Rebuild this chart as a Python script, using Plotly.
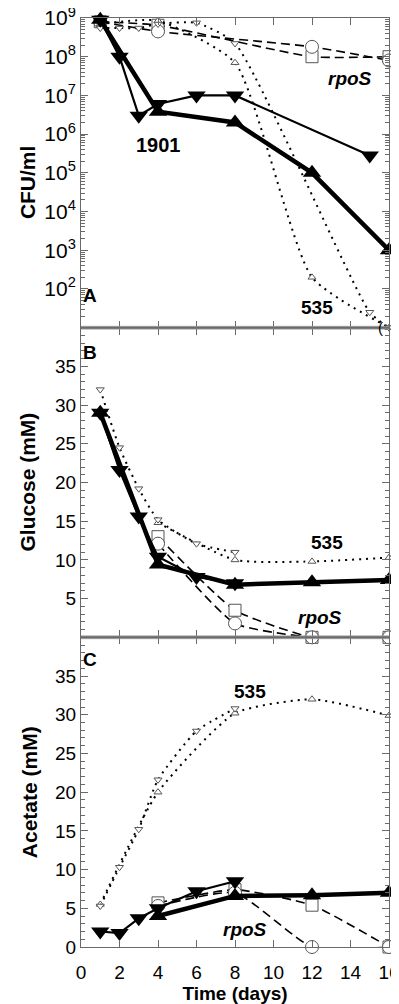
import plotly.graph_objects as go
from plotly.subplots import make_subplots

# ---------------- data ----------------
# Panel A: CFU/ml (log)
a_fdown_x = [1, 2, 3, 4, 6, 8, 15]
a_fdown_y = [9e8, 1e8, 3e6, 6e6, 1e7, 1e7, 2.8e5]
a_fup_x = [1, 4, 8, 12, 16]
a_fup_y = [9e8, 3.8e6, 2e6, 1e5, 1e3]
a_circ_x = [1, 4, 12, 16]
a_circ_y = [8e8, 4.5e8, 1.8e8, 8e7]
a_sq_x = [1, 4, 12, 16]
a_sq_y = [8e8, 6.5e8, 1e8, 1e8]
a_odown_x = [1, 2, 3, 4, 6, 8, 15, 16]
a_odown_y = [5.5e8, 5.5e8, 5.5e8, 7e8, 7.5e8, 2.2e8, 25, 10]
a_oup_x = [1, 4, 8, 12, 16]
a_oup_y = [7e8, 8.5e8, 7e7, 200, 10]

# Panel B: Glucose (mM)
b_fdown_x = [1, 2, 3, 4, 6, 8]
b_fdown_y = [29, 21.6, 15.6, 10.4, 7.8, 7.0]
b_fup_x = [1, 4, 8, 12, 16]
b_fup_y = [29, 9.4, 6.8, 7.1, 7.4]
b_circ_x = [4, 8, 12, 16]
b_circ_y = [12.1, 1.8, 0, 0]
b_sq_x = [4, 8, 12, 16]
b_sq_y = [13, 3.5, 0, 0]
b_odown_x = [1, 2, 3, 4, 6, 8]
b_odown_y = [32, 24.5, 19.2, 15.2, 12.1, 11]
b_oup_x = [4, 8, 12, 16]
b_oup_y = [14.8, 10, 9.8, 10.3]

# Panel C: Acetate (mM)
c_fdown_x = [1, 2, 3, 4, 6, 8]
c_fdown_y = [2.0, 1.8, 3.7, 5.0, 7.2, 8.5]
c_fup_x = [4, 8, 12, 16]
c_fup_y = [4.0, 6.6, 6.7, 7.0]
c_circ_x = [4, 8, 12, 16]
c_circ_y = [5.3, 7.0, 0, 0]
c_sq_x = [4, 8, 12, 16]
c_sq_y = [5.7, 7.4, 5.4, 0]
c_odown_x = [1, 2, 3, 4, 6, 8]
c_odown_y = [5.3, 10.3, 15.2, 21.6, 27.9, 30.8]
c_oup_x = [1, 4, 8, 12, 16]
c_oup_y = [5.5, 20.0, 30.2, 32.0, 29.9]

log_tickvals = [1e2, 1e3, 1e4, 1e5, 1e6, 1e7, 1e8, 1e9]
log_ticktext = ["10<sup>2</sup>", "10<sup>3</sup>", "10<sup>4</sup>", "10<sup>5</sup>",
                "10<sup>6</sup>", "10<sup>7</sup>", "10<sup>8</sup>", "10<sup>9</sup>"]
log_minor_vals = [m * 10 ** e for e in range(1, 9) for m in range(2, 10)]
lin_tickvals = [5, 10, 15, 20, 25, 30, 35]
lin_tickvals_c = [0, 5, 10, 15, 20, 25, 30, 35]
lin_minor_vals = list(range(0, 41))
x_tickvals = [0, 2, 4, 6, 8, 10, 12, 14, 16]

FONT = "Liberation Sans, Arial, sans-serif"
AX = "#6a6a6a"

fig = make_subplots(rows=3, cols=1, shared_xaxes=True, vertical_spacing=0)


def add_panel(row, fdx, fdy, fux, fuy, cx, cy, sx, sy, odx, ody, oux, ouy):
    # dashed (rpoS)
    fig.add_trace(go.Scatter(x=sx, y=sy, mode="lines+markers", cliponaxis=False,
                             line=dict(color="black", width=1.6, dash="9px,5px", shape="spline", smoothing=0.5),
                             marker=dict(symbol="square", size=12, color="white",
                                         line=dict(color="#555", width=1)),
                             showlegend=False), row=row, col=1)
    fig.add_trace(go.Scatter(x=cx, y=cy, mode="lines+markers", cliponaxis=False,
                             line=dict(color="black", width=1.6, dash="9px,5px", shape="spline", smoothing=0.5),
                             marker=dict(symbol="circle", size=13, color="white",
                                         line=dict(color="#555", width=1)),
                             showlegend=False), row=row, col=1)
    # dotted (535)
    fig.add_trace(go.Scatter(x=oux, y=ouy, mode="lines+markers", cliponaxis=False,
                             line=dict(color="black", width=2, dash="2px,5px", shape="spline", smoothing=0.55),
                             marker=dict(symbol="triangle-up", size=7, color="white",
                                         line=dict(color="#555", width=1)),
                             showlegend=False), row=row, col=1)
    fig.add_trace(go.Scatter(x=odx, y=ody, mode="lines+markers", cliponaxis=False,
                             line=dict(color="black", width=2, dash="2px,5px", shape="spline", smoothing=0.55),
                             marker=dict(symbol="triangle-down", size=7, color="white",
                                         line=dict(color="#555", width=1)),
                             showlegend=False), row=row, col=1)
    # solid (1901)
    fig.add_trace(go.Scatter(x=fux, y=fuy, mode="lines+markers", cliponaxis=False,
                             line=dict(color="black", width=4.5),
                             marker=dict(symbol="triangle-up", size=16, color="black"),
                             showlegend=False), row=row, col=1)
    fig.add_trace(go.Scatter(x=fdx, y=fdy, mode="lines+markers", cliponaxis=False,
                             line=dict(color="black", width=2.2),
                             marker=dict(symbol="triangle-down", size=16, color="black"),
                             showlegend=False), row=row, col=1)


add_panel(1, a_fdown_x, a_fdown_y, a_fup_x, a_fup_y, a_circ_x, a_circ_y, a_sq_x, a_sq_y,
          a_odown_x, a_odown_y, a_oup_x, a_oup_y)
add_panel(2, b_fdown_x, b_fdown_y, b_fup_x, b_fup_y, b_circ_x, b_circ_y, b_sq_x, b_sq_y,
          b_odown_x, b_odown_y, b_oup_x, b_oup_y)
add_panel(3, c_fdown_x, c_fdown_y, c_fup_x, c_fup_y, c_circ_x, c_circ_y, c_sq_x, c_sq_y,
          c_odown_x, c_odown_y, c_oup_x, c_oup_y)

xcommon = dict(range=[0, 16], tickvals=x_tickvals, ticks="inside", ticklen=7, tickcolor=AX,
               showline=True, linecolor=AX, linewidth=1, mirror="ticks", showgrid=False,
               zeroline=False, automargin=False, ticklabeloverflow="allow",
               tickfont=dict(family=FONT, size=19, color="black"))
for i in (1, 2, 3):
    fig.update_xaxes(**xcommon, row=i, col=1)
fig.update_xaxes(showticklabels=False, row=1, col=1)
fig.update_xaxes(showticklabels=False, row=2, col=1)
fig.update_xaxes(ticklabelstandoff=8,
                 title=dict(text="<b>Time (days)</b>", font=dict(family=FONT, size=19, color="black"),
                            standoff=0), row=3, col=1)

ycommon = dict(ticks="inside", ticklen=7, tickcolor=AX, showline=True, linecolor=AX,
               mirror="allticks", showgrid=False, zeroline=False, automargin=False,
               ticklabeloverflow="allow")
fig.update_yaxes(type="log", range=[1, 9], tickvals=log_tickvals, ticktext=log_ticktext,
                 minor=dict(tickmode="array", tickvals=log_minor_vals, ticks="inside",
                            ticklen=4, tickcolor=AX, showgrid=False),
                 tickfont=dict(family=FONT, size=21, color="black"), **ycommon, row=1, col=1)
fig.update_yaxes(range=[0, 40], tickvals=lin_tickvals,
                 minor=dict(tickmode="array", tickvals=lin_minor_vals, ticks="inside",
                            ticklen=4, tickcolor=AX, showgrid=False),
                 tickfont=dict(family=FONT, size=19, color="black"), **ycommon, row=2, col=1)
fig.update_yaxes(range=[0, 40], tickvals=lin_tickvals_c,
                 minor=dict(tickmode="array", tickvals=lin_minor_vals, ticks="inside",
                            ticklen=4, tickcolor=AX, showgrid=False),
                 tickfont=dict(family=FONT, size=19, color="black"), **ycommon, row=3, col=1)

ann = []
def txt(text, x, y, xref, yref, size=19, **kw):
    ann.append(dict(text=text, x=x, y=y, xref=xref, yref=yref, showarrow=False,
                    font=dict(family=FONT, size=size, color="black"), **kw))

# y titles
txt("<b>CFU/ml</b>", 0, 0.47, "paper", "y domain", size=21, textangle=-90, xshift=-54, xanchor="center")
txt("<b>Glucose (mM)</b>", 0, 0.5, "paper", "y2 domain", size=21, textangle=-90, xshift=-54, xanchor="center")
txt("<b>Acetate (mM)</b>", 0, 0.5, "paper", "y3 domain", size=21, textangle=-90, xshift=-52, xanchor="center")

# panel A labels
txt("<b>A</b>", 0.45, 1.82, "x", "y")
txt("<b>1901</b>", 4.0, 5.71, "x", "y", size=20)
txt("<b><i>rpoS</i></b>", 13.97, 7.45, "x", "y")
txt("<b>535</b>", 12.26, 1.51, "x", "y")
txt("(", 15.55, 1.0, "x", "y", size=15)
txt(")", 16.45, 1.0, "x", "y", size=15)
# panel B
txt("<b>B</b>", 0.47, 36.8, "x2", "y2")
txt("<b>535</b>", 12.8, 12.3, "x2", "y2")
txt("<b><i>rpoS</i></b>", 12.4, 2.6, "x2", "y2")
# panel C
txt("<b>C</b>", 0.47, 37.2, "x3", "y3")
txt("<b>535</b>", 8.78, 33.0, "x3", "y3")
txt("<b><i>rpoS</i></b>", 8.5, 2.2, "x3", "y3")

# double separator lines between panels
shapes = []
for yb in (1/3, 2/3):
    for off in (-1.3 / 929, 1.3 / 929):
        shapes.append(dict(type="line", xref="paper", yref="paper", x0=0, x1=1,
                           y0=yb + off, y1=yb + off, line=dict(color="#8a8a8a", width=1)))

# page body has an 8px margin, so the figure is shifted by (8, 8)
fig.update_layout(width=391, height=996, margin=dict(l=73, r=10, t=10, b=57, autoexpand=False),
                  paper_bgcolor="white", plot_bgcolor="white",
                  annotations=ann, shapes=shapes,
                  font=dict(family=FONT, color="black"))

fig.write_html("out.html")
